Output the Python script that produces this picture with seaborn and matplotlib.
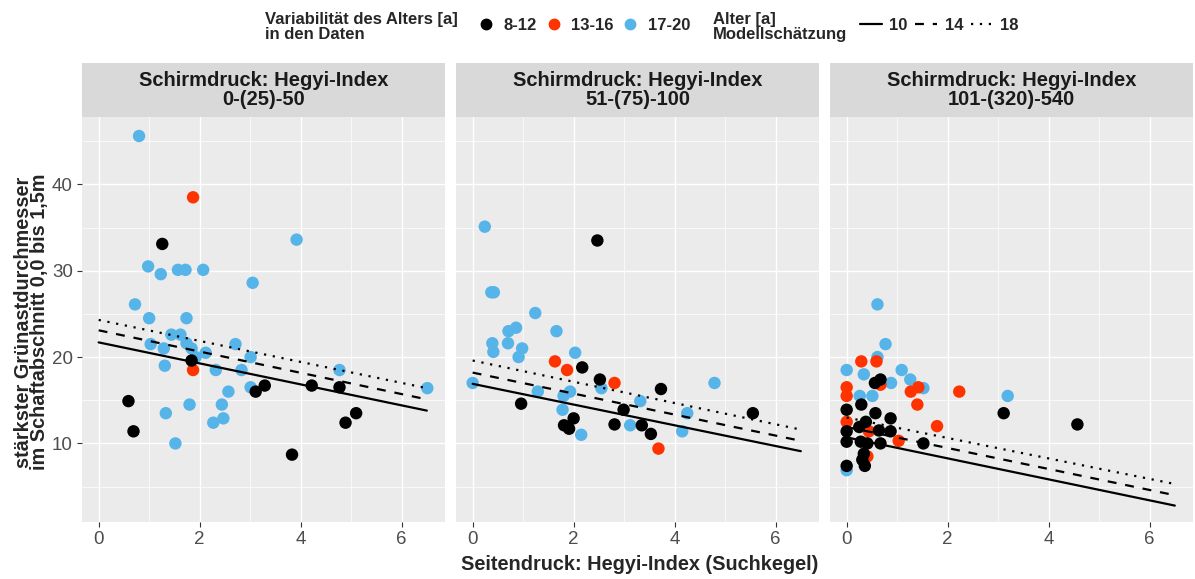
import numpy as np
import pandas as pd
import seaborn as sns
import matplotlib.pyplot as plt
from matplotlib.lines import Line2D

# --- data ------------------------------------------------------------------
panel_titles = ["Schirmdruck: Hegyi-Index\n0-(25)-50",
                "Schirmdruck: Hegyi-Index\n51-(75)-100",
                "Schirmdruck: Hegyi-Index\n101-(320)-540"]
age_groups = ["8-12", "13-16", "17-20"]
age_colors = ["#000000", "#FF3300", "#56B4E9"]
code_map = {"K": "8-12", "R": "13-16", "B": "17-20"}

x1 = [0.80, 1.87, 1.26, 3.92, 0.98, 1.23, 1.57, 1.72, 2.07, 3.05, 0.72, 1.00, 1.74, 1.44, 1.62, 1.03,
      1.29, 1.74, 1.84, 1.92, 2.71, 2.12, 3.01, 1.84, 1.87, 1.31, 2.32, 2.83, 4.77, 6.51, 3.01, 3.11,
      3.29, 4.22, 4.77, 2.57, 0.59, 2.44, 1.80, 1.33, 5.10, 4.89, 2.27, 2.47, 0.69, 1.52, 3.83]
y1 = [45.6, 38.5, 33.1, 33.6, 30.5, 29.6, 30.1, 30.1, 30.1, 28.6, 26.1, 24.5, 24.5, 22.6, 22.6, 21.5,
      21.0, 21.6, 21.0, 20.0, 21.5, 20.5, 20.0, 19.6, 18.5, 19.0, 18.5, 18.5, 18.5, 16.4, 16.5, 16.0,
      16.7, 16.7, 16.5, 16.0, 14.9, 14.5, 14.5, 13.5, 13.5, 12.4, 12.4, 12.9, 11.4, 10.0, 8.7]
g1 = "B R K B B B B B B B B B B B B B B B B B B B B K R B B B B B B K K K K B K B B B K K B B K B K".split()

x2 = [0.24, 2.47, 0.37, 0.42, 1.24, 0.71, 0.86, 1.66, 0.70, 0.39, 0.41, 0.98, 0.91, 2.03, 1.63, 1.87,
      2.17, 2.52, 2.55, 2.81, 3.73, 4.79, 0.00, 1.29, 1.80, 1.93, 3.32, 0.96, 1.78, 2.99, 4.25, 5.55,
      2.00, 1.81, 1.91, 2.81, 3.12, 3.35, 3.53, 4.15, 2.15, 3.68]
y2 = [35.1, 33.5, 27.5, 27.5, 25.1, 23.0, 23.4, 23.0, 21.6, 21.6, 20.6, 21.0, 20.0, 20.5, 19.5, 18.5,
      18.8, 17.4, 16.4, 17.0, 16.3, 17.0, 17.0, 16.0, 15.5, 16.0, 14.9, 14.6, 13.9, 13.9, 13.5, 13.5,
      12.9, 12.1, 11.7, 12.2, 12.1, 12.1, 11.1, 11.4, 11.0, 9.4]
g2 = "B K B B B B B B B B B B B B R R K K B R K B B B B B B K B K B K K K K K B K K B B R".split()

x3 = [0.61, 0.77, 0.61, 0.29, 0.59, 0.00, 0.34, 1.09, 1.26, 0.67, 0.67, 0.56, 0.88, 0.00, 0.00, 1.27,
      1.42, 1.52, 2.23, 3.19, 0.26, 0.51, 1.40, 0.29, 0.00, 3.11, 0.57, 0.00, 1.79, 4.57, 0.87, 0.38,
      0.25, 0.00, 0.44, 0.64, 0.87, 1.03, 1.52, 0.00, 0.28, 0.41, 0.67, 0.41, 0.34, 0.31, 0.36, 0.00, 0.00]
y3 = [26.1, 21.5, 20.0, 19.5, 19.5, 18.5, 18.0, 18.5, 17.4, 16.8, 17.4, 17.0, 17.0, 16.5, 15.5, 16.0,
      16.5, 16.4, 16.0, 15.5, 15.5, 15.5, 14.5, 14.5, 13.9, 13.5, 13.5, 12.5, 12.0, 12.2, 12.9, 12.5,
      11.9, 11.4, 11.4, 11.5, 11.4, 10.3, 10.0, 10.2, 10.2, 10.0, 10.0, 8.5, 8.8, 8.1, 7.4, 7.4, 6.9]
g3 = "B B B R R B B B B R K K B R R R R B R B B B R K K K K R R K K K K K R K K R K K K K K R K K K K B".split()

# model estimates (age 10 / 14 / 18) at x = 0 and x = 6.5
model_ages = ["10", "14", "18"]
line_x = [0.0, 6.5]
lines1 = {"10": [21.7, 13.8], "14": [23.1, 15.1], "18": [24.3, 16.4]}
lines2 = {"10": [16.9, 9.1], "14": [18.2, 10.3], "18": [19.6, 11.6]}
lines3 = {"10": [10.7, 2.8], "14": [11.9, 4.0], "18": [13.0, 5.3]}

# --- style -----------------------------------------------------------------
sns.set_theme(style="darkgrid", rc={"axes.facecolor": "#EBEBEB", "grid.color": "white"})
plt.rcParams['font.family'] = ['Liberation Sans', 'DejaVu Sans']

palette = dict(zip(age_groups, age_colors))
dash_map = {"10": "", "14": (4, 4), "18": (1, 3)}

fig = plt.figure(figsize=(11.95, 5.79), dpi=100)
W, H = 1195, 579
panel_left = [82, 456, 830]
panel_w = 363
ax_bottom = 1 - 522 / H
ax_top = 1 - 117 / H
strip_top = 1 - 63 / H

panels = [(x1, y1, g1, lines1), (x2, y2, g2, lines2), (x3, y3, g3, lines3)]
for i, (xs, ys, gs, lines) in enumerate(panels):
    left = panel_left[i] / W
    ax = fig.add_axes([left, ax_bottom, panel_w / W, ax_top - ax_bottom])
    pts = pd.DataFrame({"x": xs, "y": ys, "age": [code_map[g] for g in gs]})
    # draw blue first, then red, then black on top
    pts["order"] = pts["age"].map({"17-20": 0, "13-16": 1, "8-12": 2})
    pts = pts.sort_values("order", kind="stable")
    sns.scatterplot(data=pts, x="x", y="y", hue="age", palette=palette, s=80,
                    linewidth=0, alpha=1, legend=False, ax=ax, zorder=3)
    ldf = pd.DataFrame([(xv, yv, a) for a in model_ages for xv, yv in zip(line_x, lines[a])],
                       columns=["x", "y", "alter"])
    sns.lineplot(data=ldf, x="x", y="y", style="alter", dashes=dash_map, color="black",
                 linewidth=1.6, legend=False, ax=ax, zorder=4)
    ax.set_xlim(-0.33, 6.86)
    ax.set_ylim(0.9, 47.8)
    ax.set_xticks([0, 2, 4, 6])
    ax.set_xticks([1, 3, 5], minor=True)
    ax.set_yticks([10, 20, 30, 40])
    ax.set_yticks([5, 15, 25, 35, 45], minor=True)
    ax.grid(which="major", color="white", linewidth=1.0)
    ax.grid(which="minor", color="white", linewidth=0.5)
    ax.tick_params(which="major", length=3.5, width=0.8, color="#333333", labelsize=13.5,
                   labelcolor="#4D4D4D", pad=3, bottom=True, left=(i == 0))
    ax.tick_params(which="minor", length=0)
    if i > 0:
        ax.set_yticklabels([])
    ax.set_xlabel("")
    ax.set_ylabel("")
    for sp in ax.spines.values():
        sp.set_visible(False)

    # facet strip
    sax = fig.add_axes([left, ax_top, panel_w / W, strip_top - ax_top])
    sax.set_facecolor("#D9D9D9")
    sax.set_xticks([])
    sax.set_yticks([])
    sax.grid(False)
    for sp in sax.spines.values():
        sp.set_visible(False)
    sax.text(0.5, 0.5, panel_titles[i], ha="center", va="center", fontsize=14.5,
             fontweight="bold", color="#1A1A1A", linespacing=0.96, transform=sax.transAxes)

fig.text(32 / W, 1 - 322 / H, "stärkster Grünastdurchmesser\nim Schaftabschnitt 0,0 bis 1,5m",
         rotation=90, ha="center", va="center", fontsize=14.3, fontweight="bold", linespacing=0.8)
fig.text(640 / W, 1 - 564 / H, "Seitendruck: Hegyi-Index (Suchkegel)", ha="center", va="center",
         fontsize=14.3, fontweight="bold")

# --- legends on top ----------------------------------------------------------
fig.text(265 / W, 1 - 27 / H, "Variabilität des Alters [a]\nin den Daten", ha="left", va="center",
         fontsize=12, fontweight="bold", linespacing=0.92)
pt_handles = [Line2D([], [], marker="o", linestyle="", color=c, markersize=7.5) for c in age_colors]
fig.legend(pt_handles, age_groups, loc="center left", bbox_to_anchor=(478 / W, 1 - 25 / H),
           ncol=3, frameon=False, handlelength=1.0, handletextpad=0.55, columnspacing=0.5,
           prop={"weight": "bold", "size": 12}, borderaxespad=0, borderpad=0)

fig.text(713 / W, 1 - 27 / H, "Alter [a]\nModellschätzung", ha="left", va="center",
         fontsize=12, fontweight="bold", linespacing=0.92)
ln_handles = [Line2D([], [], color="black", linewidth=1.6, dashes=dash_map[a]) if dash_map[a]
              else Line2D([], [], color="black", linewidth=1.6) for a in model_ages]
fig.legend(ln_handles, model_ages, loc="center left", bbox_to_anchor=(860 / W, 1 - 25 / H),
           ncol=3, frameon=False, handlelength=1.32, handletextpad=0.45, columnspacing=0.45,
           prop={"weight": "bold", "size": 12}, borderaxespad=0, borderpad=0)

fig.savefig("out.png", dpi=100)
